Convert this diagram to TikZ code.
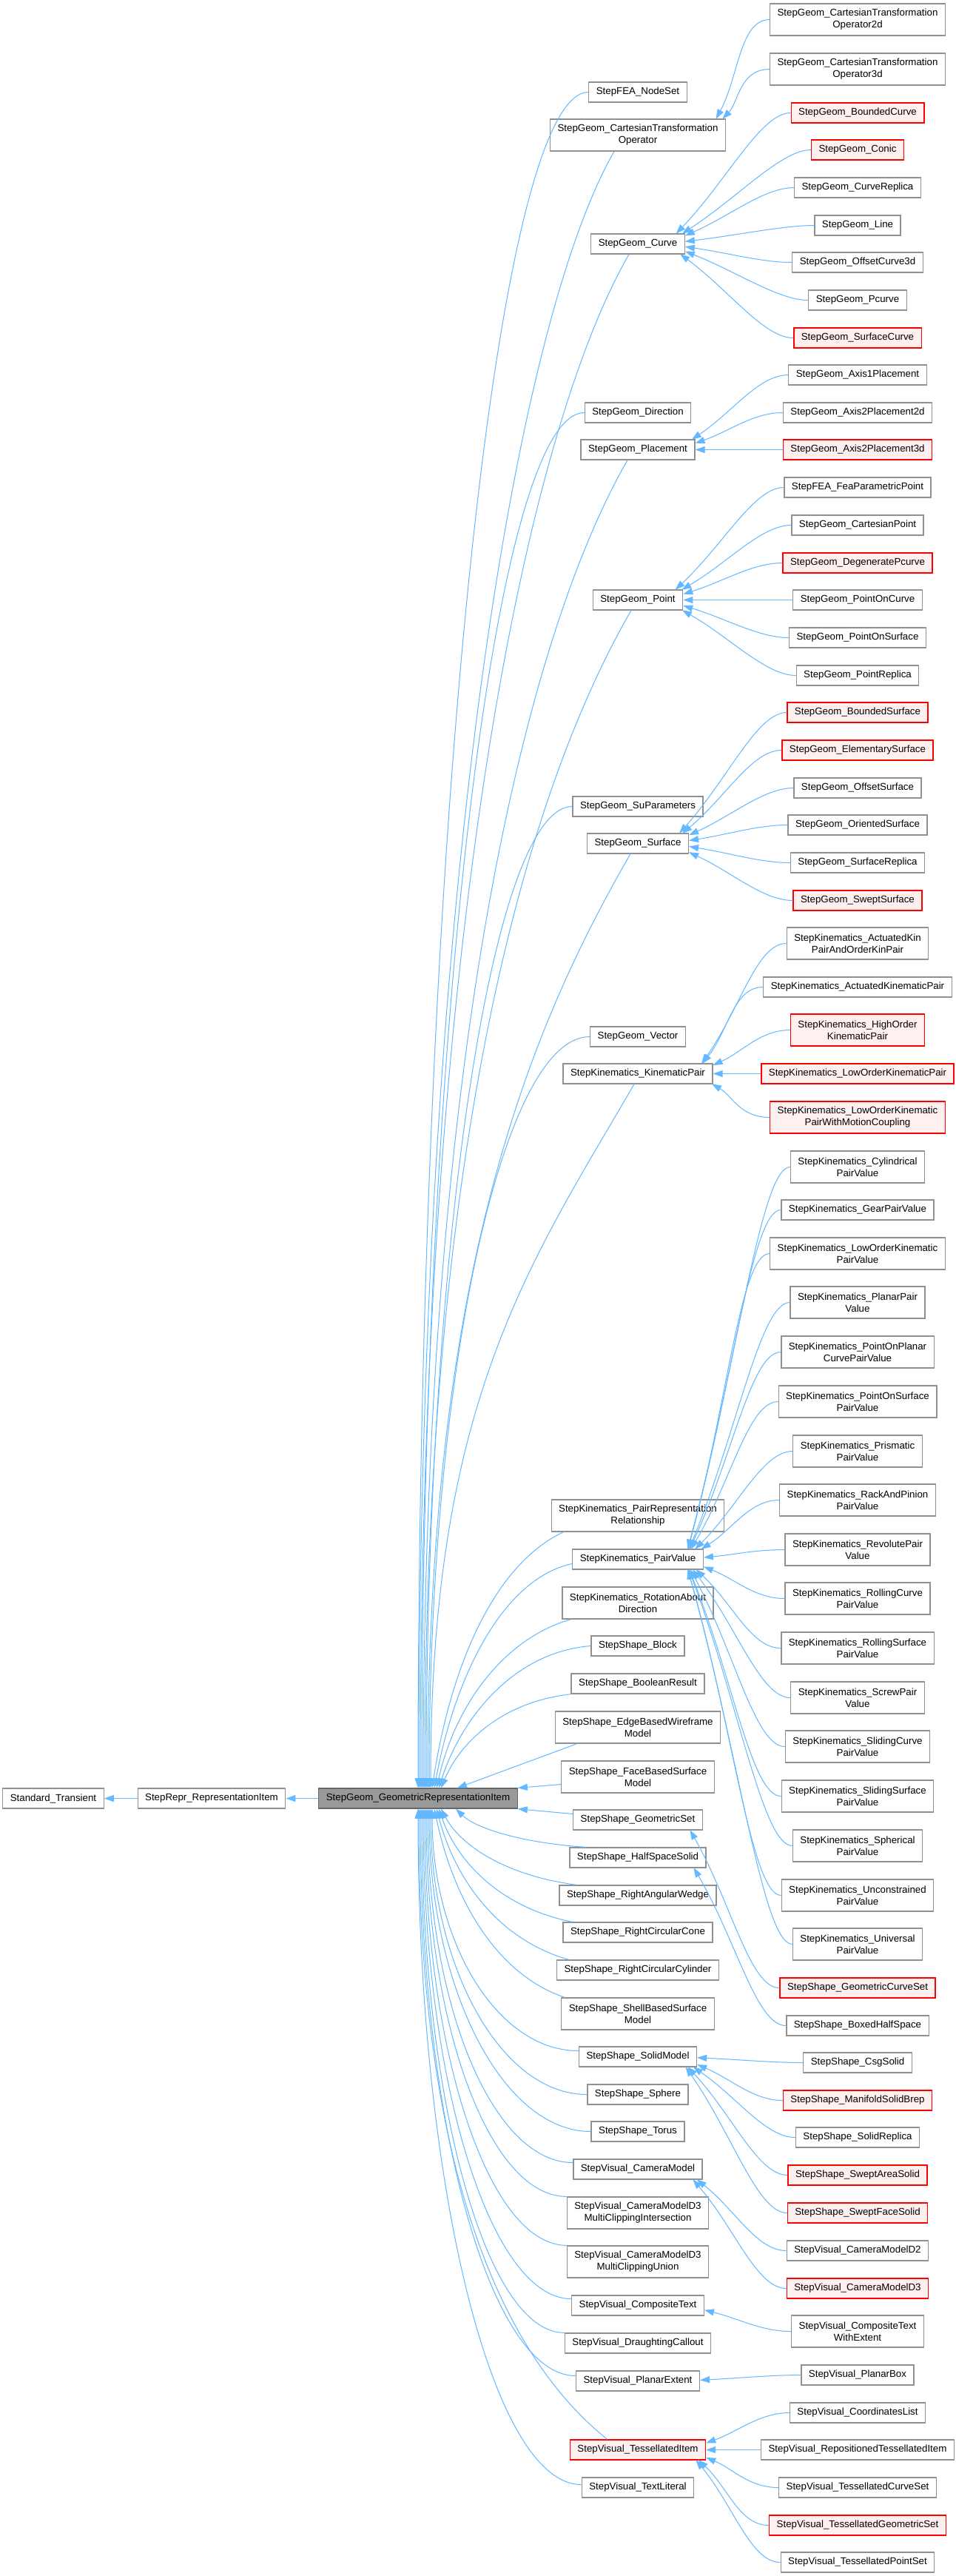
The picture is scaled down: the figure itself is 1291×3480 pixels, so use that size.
\documentclass[tikz,border=0pt]{standalone}
\usepackage{fontspec}
\setmainfont{Liberation Sans}
\usetikzlibrary{calc,arrows.meta,positioning}
\definecolor{edgeblue}{HTML}{63B8FF}
\definecolor{boxline}{HTML}{909090}
\definecolor{focusfill}{HTML}{999999}
\definecolor{focusline}{HTML}{666666}
\definecolor{truncfill}{HTML}{FFF0F0}
\tikzset{
  cls/.style={draw=boxline, line width=1.3pt, fill=white, inner xsep=10pt, inner ysep=0pt,
              minimum height=27pt, align=center, font=\fontsize{13.3}{16}\selectfont},
  cls2/.style={cls, minimum height=43pt},
  trunc/.style={cls, draw=red, fill=truncfill},
  trunc2/.style={trunc, minimum height=43pt},
  focus/.style={cls, draw=focusline, fill=focusfill},
  inh/.style={draw=edgeblue, line width=1pt, arrows={Triangle[length=13pt,width=9pt]-}},
  hub/.style={inner sep=0pt, minimum width=50pt, minimum height=27pt, anchor=east}
}

\begin{document}
\begin{tikzpicture}[x=1pt,y=-1pt]
    \path[use as bounding box, fill=white] (0,0) rectangle (1291,3480);
    % Draw base classes
    \node[cls] (transient) at (72,2429.5) {Standard\_Transient};
    \node[cls] (repr) at (286,2429.5) {StepRepr\_RepresentationItem};
    \node[focus] (gri) at (565,2429.5) {StepGeom\_GeometricRepresentationItem};
    % Draw direct subclasses
    \node[cls] (nodeset) at (862,124.5) {StepFEA\_NodeSet};
    \node[cls2] (cto) at (862,182.5) {StepGeom\_CartesianTransformation\\Operator};
    \node[cls] (curve) at (862,329.5) {StepGeom\_Curve};
    \node[cls] (direction) at (862,557.5) {StepGeom\_Direction};
    \node[cls] (placement) at (862,607.5) {StepGeom\_Placement};
    \node[cls] (point) at (862,810.5) {StepGeom\_Point};
    \node[cls] (suparam) at (862,1089.5) {StepGeom\_SuParameters};
    \node[cls] (surface) at (862,1139.5) {StepGeom\_Surface};
    \node[cls] (vector) at (862,1400.5) {StepGeom\_Vector};
    \node[cls] (kinpair) at (862,1450.5) {StepKinematics\_KinematicPair};
    \node[cls2] (pairrep) at (862,2047.5) {StepKinematics\_PairRepresentation\\Relationship};
    \node[cls] (pv) at (862,2106.5) {StepKinematics\_PairValue};
    \node[cls2] (rotation) at (862,2165.5) {StepKinematics\_RotationAbout\\Direction};
    \node[cls] (block) at (862,2223.5) {StepShape\_Block};
    \node[cls] (boolean) at (862,2274.5) {StepShape\_BooleanResult};
    \node[cls2] (edgebased) at (862,2333.5) {StepShape\_EdgeBasedWireframe\\Model};
    \node[cls2] (facebased) at (862,2400.5) {StepShape\_FaceBasedSurface\\Model};
    \node[cls] (geomset) at (862,2458.5) {StepShape\_GeometricSet};
    \node[cls] (halfspace) at (862,2509.5) {StepShape\_HalfSpaceSolid};
    \node[cls] (raw) at (862,2560.5) {StepShape\_RightAngularWedge};
    \node[cls] (rccone) at (862,2610.5) {StepShape\_RightCircularCone};
    \node[cls] (rccyl) at (862,2661.5) {StepShape\_RightCircularCylinder};
    \node[cls2] (shellbased) at (862,2720.5) {StepShape\_ShellBasedSurface\\Model};
    \node[cls] (solidmodel) at (862,2778.5) {StepShape\_SolidModel};
    \node[cls] (sphere) at (862,2829.5) {StepShape\_Sphere};
    \node[cls] (torus) at (862,2879.5) {StepShape\_Torus};
    \node[cls] (cammodel) at (862,2930.5) {StepVisual\_CameraModel};
    \node[cls2] (mci) at (862,2989.5) {StepVisual\_CameraModelD3\\MultiClippingIntersection};
    \node[cls2] (mcu) at (862,3055.5) {StepVisual\_CameraModelD3\\MultiClippingUnion};
    \node[cls] (ctext) at (862,3114.5) {StepVisual\_CompositeText};
    \node[cls] (draught) at (862,3165.5) {StepVisual\_DraughtingCallout};
    \node[cls] (planarext) at (862,3216.5) {StepVisual\_PlanarExtent};
    \node[trunc] (tessitem) at (862,3309.5) {StepVisual\_TessellatedItem};
    \node[cls] (textlit) at (862,3360.5) {StepVisual\_TextLiteral};
    % Draw second level subclasses
    \node[cls2] (cto2d) at (1159,26.5) {StepGeom\_CartesianTransformation\\Operator2d};
    \node[cls2] (cto3d) at (1159,93.5) {StepGeom\_CartesianTransformation\\Operator3d};
    \node[trunc] (bcurve) at (1159,152.5) {StepGeom\_BoundedCurve};
    \node[trunc] (conic) at (1159,202.5) {StepGeom\_Conic};
    \node[cls] (crepl) at (1159,253.5) {StepGeom\_CurveReplica};
    \node[cls] (gline) at (1159,304.5) {StepGeom\_Line};
    \node[cls] (ocurve) at (1159,354.5) {StepGeom\_OffsetCurve3d};
    \node[cls] (pcurve) at (1159,405.5) {StepGeom\_Pcurve};
    \node[trunc] (scurve) at (1159,456.5) {StepGeom\_SurfaceCurve};
    \node[cls] (ax1) at (1159,506.5) {StepGeom\_Axis1Placement};
    \node[cls] (ax2d) at (1159,557.5) {StepGeom\_Axis2Placement2d};
    \node[trunc] (ax3d) at (1159,607.5) {StepGeom\_Axis2Placement3d};
    \node[cls] (feapt) at (1159,658.5) {StepFEA\_FeaParametricPoint};
    \node[cls] (cpoint) at (1159,709.5) {StepGeom\_CartesianPoint};
    \node[trunc] (dpcurve) at (1159,760.5) {StepGeom\_DegeneratePcurve};
    \node[cls] (ptcurve) at (1159,810.5) {StepGeom\_PointOnCurve};
    \node[cls] (ptsurf) at (1159,861.5) {StepGeom\_PointOnSurface};
    \node[cls] (ptrepl) at (1159,912.5) {StepGeom\_PointReplica};
    \node[trunc] (bsurf) at (1159,962.5) {StepGeom\_BoundedSurface};
    \node[trunc] (esurf) at (1159,1013.5) {StepGeom\_ElementarySurface};
    \node[cls] (osurf) at (1159,1064.5) {StepGeom\_OffsetSurface};
    \node[cls] (orsurf) at (1159,1114.5) {StepGeom\_OrientedSurface};
    \node[cls] (srepl) at (1159,1165.5) {StepGeom\_SurfaceReplica};
    \node[trunc] (swsurf) at (1159,1216.5) {StepGeom\_SweptSurface};
    \node[cls2] (akpok) at (1159,1274.5) {StepKinematics\_ActuatedKin\\PairAndOrderKinPair};
    \node[cls] (akp) at (1159,1333.5) {StepKinematics\_ActuatedKinematicPair};
    \node[trunc2] (hokp) at (1159,1391.5) {StepKinematics\_HighOrder\\KinematicPair};
    \node[trunc] (lokp) at (1159,1450.5) {StepKinematics\_LowOrderKinematicPair};
    \node[trunc2] (lokpmc) at (1159,1509.5) {StepKinematics\_LowOrderKinematic\\PairWithMotionCoupling};
    \node[cls2] (cylpv) at (1159,1576.5) {StepKinematics\_Cylindrical\\PairValue};
    \node[cls] (gearpv) at (1159,1634.5) {StepKinematics\_GearPairValue};
    \node[cls2] (lokpv) at (1159,1693.5) {StepKinematics\_LowOrderKinematic\\PairValue};
    \node[cls2] (planpv) at (1159,1759.5) {StepKinematics\_PlanarPair\\Value};
    \node[cls2] (popcpv) at (1159,1826.5) {StepKinematics\_PointOnPlanar\\CurvePairValue};
    \node[cls2] (popspv) at (1159,1893.5) {StepKinematics\_PointOnSurface\\PairValue};
    \node[cls2] (prispv) at (1159,1960.5) {StepKinematics\_Prismatic\\PairValue};
    \node[cls2] (rppv) at (1159,2026.5) {StepKinematics\_RackAndPinion\\PairValue};
    \node[cls2] (revpv) at (1159,2093.5) {StepKinematics\_RevolutePair\\Value};
    \node[cls2] (rcpv) at (1159,2159.5) {StepKinematics\_RollingCurve\\PairValue};
    \node[cls2] (rspv) at (1159,2226.5) {StepKinematics\_RollingSurface\\PairValue};
    \node[cls2] (scpv) at (1159,2293.5) {StepKinematics\_ScrewPair\\Value};
    \node[cls2] (slcpv) at (1159,2359.5) {StepKinematics\_SlidingCurve\\PairValue};
    \node[cls2] (slspv) at (1159,2426.5) {StepKinematics\_SlidingSurface\\PairValue};
    \node[cls2] (sphpv) at (1159,2493.5) {StepKinematics\_Spherical\\PairValue};
    \node[cls2] (uncpv) at (1159,2560.5) {StepKinematics\_Unconstrained\\PairValue};
    \node[cls2] (unipv) at (1159,2626.5) {StepKinematics\_Universal\\PairValue};
    \node[trunc] (gcset) at (1159,2685.5) {StepShape\_GeometricCurveSet};
    \node[cls] (bhspace) at (1159,2736.5) {StepShape\_BoxedHalfSpace};
    \node[cls] (csg) at (1159,2786.5) {StepShape\_CsgSolid};
    \node[trunc] (msbrep) at (1159,2837.5) {StepShape\_ManifoldSolidBrep};
    \node[cls] (solrepl) at (1159,2887.5) {StepShape\_SolidReplica};
    \node[trunc] (swasolid) at (1159,2938.5) {StepShape\_SweptAreaSolid};
    \node[trunc] (swfsolid) at (1159,2989.5) {StepShape\_SweptFaceSolid};
    \node[cls] (cmd2) at (1159,3040.5) {StepVisual\_CameraModelD2};
    \node[trunc] (cmd3) at (1159,3091.5) {StepVisual\_CameraModelD3};
    \node[cls2] (ctextx) at (1159,3149.5) {StepVisual\_CompositeText\\WithExtent};
    \node[cls] (pbox) at (1159,3208.5) {StepVisual\_PlanarBox};
    \node[cls] (clist) at (1159,3259.5) {StepVisual\_CoordinatesList};
    \node[cls] (rtitem) at (1159,3309.5) {StepVisual\_RepositionedTessellatedItem};
    \node[cls] (tcset) at (1159,3360.5) {StepVisual\_TessellatedCurveSet};
    \node[trunc] (tgset) at (1159,3411.5) {StepVisual\_TessellatedGeometricSet};
    \node[cls] (tpset) at (1159,3461.5) {StepVisual\_TessellatedPointSet};

    % Draw base class links
    \draw[inh] (transient) -- (repr);
    \draw[inh] (repr) -- (gri);
    % Links from the upper subclasses
    \draw[inh] (gri.north) .. controls +(0,-1261) and +(-127,0) .. (nodeset.west);
    \draw[inh] ([xshift=1pt]gri.north) .. controls +(0,-1217) and +(-132,229) .. ([xshift=-32pt]cto.south);
    \draw[inh] ([xshift=3pt]gri.north) .. controls +(0,-1140) and +(-141,244) .. ([xshift=-12pt]curve.south);
    \draw[inh] ([xshift=5pt]gri.north) .. controls +(0,-1022) and +(-121,0) .. (direction.west);
    \draw[inh] ([xshift=7pt]gri.north) .. controls +(0,-987) and +(-138,239) .. ([xshift=-14pt]placement.south);
    \draw[inh] ([xshift=9pt]gri.north) .. controls +(0,-876) and +(-140,242) .. ([xshift=-9pt]point.south);
    \draw[inh] ([xshift=11pt]gri.north) .. controls +(0,-729) and +(-109,0) .. (suparam.west);
    \draw[inh] ([xshift=13pt]gri.north) .. controls +(0,-695) and +(-137,237) .. ([xshift=-10pt]surface.south);
    \draw[inh] ([xshift=15pt]gri.north) .. controls +(0,-559) and +(-119,0) .. (vector.west);
    \draw[inh] ([xshift=17pt]gri.north) .. controls +(0,-524) and +(-138,238) .. ([xshift=-5pt]kinpair.south);
    \draw[inh] ([xshift=19pt]gri.north) .. controls +(27,-174) and +(-90,42) .. ([xshift=17pt]pairrep.south west);
    \draw[inh] ([xshift=22pt]gri.north) .. controls +(28,-152) and +(-93,20) .. ([yshift=-6pt]pv.west);
    \draw[inh] ([xshift=25pt]gri.north) .. controls +(26,-115) and +(-88,25) .. ([xshift=12pt]rotation.south west);
    \draw[inh] ([xshift=28pt]gri.north) .. controls +(31,-96) and +(-103,8) .. (block.west);
    \draw[inh] ([xshift=31pt]gri.north) .. controls +(27,-64) and +(-90,10) .. (boolean.south west);
    \draw[inh] ([xshift=53pt]gri.north) -- ([xshift=30pt]edgebased.south west);
    \draw[inh] (gri.north east) -- ([yshift=-10pt]facebased.west);
    % Links from the lower subclasses
    \draw[inh] (gri.south east) -- ([yshift=8pt]geomset.west);
    \draw[inh] ([xshift=51pt]gri.south) .. controls +(27,26) and +(-88,-6) .. ([xshift=22pt]halfspace.north west);
    \draw[inh] ([xshift=31pt]gri.south) .. controls +(28,52) and +(-92,-12) .. ([xshift=24pt]raw.north west);
    \draw[inh] ([xshift=28pt]gri.south) .. controls +(27,77) and +(-91,-18) .. ([xshift=13pt]rccone.north west);
    \draw[inh] ([xshift=25pt]gri.south) .. controls +(27,102) and +(-90,-25) .. ([xshift=17pt]rccyl.north west);
    \draw[inh] ([xshift=22pt]gri.south) .. controls +(27,128) and +(-89,-30) .. ([xshift=5pt]shellbased.north west);
    \draw[inh] ([xshift=19pt]gri.south) .. controls +(0,180) and +(-110,0) .. ([yshift=8pt]solidmodel.west);
    \draw[inh] ([xshift=17pt]gri.south) .. controls +(0,212) and +(-117,0) .. (sphere.west);
    \draw[inh] ([xshift=15pt]gri.south) .. controls +(0,240) and +(-120,0) .. (torus.west);
    \draw[inh] ([xshift=13pt]gri.south) .. controls +(0,263) and +(-109,0) .. ([yshift=9pt]cammodel.west);
    \draw[inh] ([xshift=11pt]gri.south) .. controls +(0,289) and +(-105,0) .. (mci.north west);
    \draw[inh] ([xshift=9pt]gri.south) .. controls +(0,325) and +(-106,0) .. (mcu.north west);
    \draw[inh] ([xshift=7pt]gri.south) .. controls +(0,365) and +(-110,0) .. ([yshift=9pt]ctext.west);
    \draw[inh] ([xshift=5pt]gri.south) .. controls +(0,390) and +(-107,0) .. (draught.north west);
    \draw[inh] ([xshift=3pt]gri.south) .. controls +(0,421) and +(-116,0) .. ([yshift=7pt]planarext.west);
    \draw[inh] ([xshift=1pt]gri.south) .. controls +(0,469) and +(-150,-120) .. ([xshift=51pt]tessitem.north west);
    \draw[inh] (gri.south) .. controls +(0,502) and +(-122,0) .. ([yshift=4pt]textlit.west);

    % Links to the second level
    \foreach \p/\h in {cto/43,curve/27,placement/27,point/27,surface/27,kinpair/27,pv/27,
                       geomset/27,halfspace/27,solidmodel/27,cammodel/27,ctext/27,planarext/27,tessitem/27}
      \node[hub, minimum height=\h pt] (\p R) at (\p.east) {};
    \foreach \p/\kids in {cto/{cto2d,cto3d},
                          curve/{bcurve,conic,crepl,gline,ocurve,pcurve,scurve},
                          placement/{ax1,ax2d,ax3d},
                          point/{feapt,cpoint,dpcurve,ptcurve,ptsurf,ptrepl},
                          surface/{bsurf,esurf,osurf,orsurf,srepl,swsurf},
                          kinpair/{akpok,akp,hokp,lokp,lokpmc},
                          pv/{cylpv,gearpv,lokpv,planpv,popcpv,popspv,prispv,rppv,revpv,rcpv,rspv,scpv,slcpv,slspv,sphpv,uncpv,unipv},
                          geomset/{gcset},
                          halfspace/{bhspace},
                          solidmodel/{csg,msbrep,solrepl,swasolid,swfsolid},
                          cammodel/{cmd2,cmd3},
                          ctext/{ctextx},
                          planarext/{pbox},
                          tessitem/{clist,rtitem,tcset,tgset,tpset}}
      \foreach \c in \kids
        \draw[inh] (\p R) .. controls ($(\p R)!0.5!(\c.west)$) and ($(\c.west)+(-40,0)$) .. (\c.west);
\end{tikzpicture}
\end{document}
